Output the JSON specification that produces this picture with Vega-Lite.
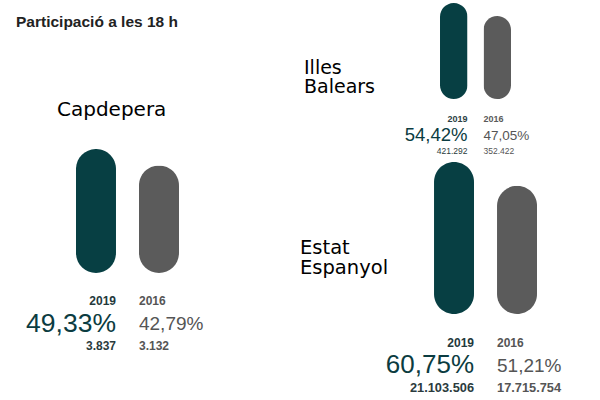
{
  "$schema": "https://vega.github.io/schema/vega-lite/v6.json",
  "padding": 0,
  "background": "#ffffff",
  "config": {
    "view": {"stroke": null},
    "locale": {"number": {"decimal": ",", "thousands": ".", "grouping": [3], "currency": ["", " €"]}}
  },
  "datasets": {
    "turnout": [
      {"region": "Capdepera", "year": "2019", "share": 0.4933, "votes": 3837},
      {"region": "Capdepera", "year": "2016", "share": 0.4279, "votes": 3132},
      {"region": "Illes Balears", "year": "2019", "share": 0.5442, "votes": 421292},
      {"region": "Illes Balears", "year": "2016", "share": 0.4705, "votes": 352422},
      {"region": "Estat Espanyol", "year": "2019", "share": 0.6075, "votes": 21103506},
      {"region": "Estat Espanyol", "year": "2016", "share": 0.5121, "votes": 17715754}
    ]
  },
  "data": {"name": "turnout"},
  "bounds": "flush",
  "spacing": 174,
  "hconcat": [
    {
      "width": 179,
      "height": 273,
      "title": {"text": "Participació a les 18 h", "anchor": "start", "orient": "top", "frame": "group", "offset": -42, "baseline": "alphabetic", "dx": 16, "font": "Liberation Sans", "fontSize": 15.5, "fontWeight": "bold", "color": "#222222"},
      "transform": [{"filter": "datum.region === 'Capdepera'"}],
      "layer": [
        {
          "mark": {"type": "bar", "cornerRadius": 20},
          "encoding": {
            "x": {"field": "year", "type": "nominal", "axis": null, "scale": {"domain": ["2019", "2016"], "paddingInner": 0.365, "paddingOuter": 0.603, "align": 1}},
            "y": {"field": "share", "type": "quantitative", "axis": null, "scale": {"domain": [0, 1.086], "nice": false}},
            "color": {"field": "year", "type": "nominal", "legend": null, "scale": {"domain": ["2019", "2016"], "range": ["#073f43", "#5b5b5b"]}}
          }
        },
        {
          "transform": [{"filter": "datum.year === '2019'"}],
          "encoding": {"x": {"field": "year", "type": "nominal", "bandPosition": 1}, "y": {"datum": 0}},
          "layer": [
            {"mark": {"type": "text", "align": "right", "baseline": "alphabetic", "dy": 32, "font": "Liberation Sans", "fontSize": 12, "fontWeight": "bold", "color": "#24393c"}, "encoding": {"text": {"field": "year"}}},
            {"mark": {"type": "text", "align": "right", "baseline": "alphabetic", "dy": 59, "font": "Liberation Sans", "fontSize": 26.5, "color": "#0b3c41"}, "encoding": {"text": {"field": "share", "type": "quantitative", "format": ".2%"}}},
            {"mark": {"type": "text", "align": "right", "baseline": "alphabetic", "dy": 77, "font": "Liberation Sans", "fontSize": 12, "fontWeight": "bold", "color": "#2b3b3d"}, "encoding": {"text": {"field": "votes", "type": "quantitative", "format": ",d"}}},
            {"mark": {"type": "text", "align": "left", "baseline": "alphabetic", "dx": -19, "dy": -157, "font": "DejaVu Sans", "fontSize": 20, "color": "#000000"}, "encoding": {"x": {"field": "year", "type": "nominal", "bandPosition": 0}, "text": {"field": "region"}}}
          ]
        },
        {
          "transform": [{"filter": "datum.year === '2016'"}],
          "encoding": {"x": {"field": "year", "type": "nominal", "bandPosition": 0}, "y": {"datum": 0}},
          "layer": [
            {"mark": {"type": "text", "align": "left", "baseline": "alphabetic", "dy": 32, "font": "Liberation Sans", "fontSize": 12, "fontWeight": "bold", "color": "#555555"}, "encoding": {"text": {"field": "year"}}},
            {"mark": {"type": "text", "align": "left", "baseline": "alphabetic", "dy": 57, "font": "Liberation Sans", "fontSize": 19, "color": "#555555"}, "encoding": {"text": {"field": "share", "type": "quantitative", "format": ".2%"}}},
            {"mark": {"type": "text", "align": "left", "baseline": "alphabetic", "dy": 77, "font": "Liberation Sans", "fontSize": 12, "fontWeight": "bold", "color": "#555555"}, "encoding": {"text": {"field": "votes", "type": "quantitative", "format": ",d"}}}
          ]
        }
      ]
    },
    {
      "bounds": "flush",
      "spacing": 61,
      "vconcat": [
        {
          "width": 158,
          "height": 99,
          "transform": [{"filter": "datum.region === 'Illes Balears'"}],
          "layer": [
            {
              "mark": {"type": "bar", "cornerRadius": 14},
              "encoding": {
                "x": {"field": "year", "type": "nominal", "axis": null, "scale": {"domain": ["2019", "2016"], "paddingInner": 0.368, "paddingOuter": 1, "align": 1}},
                "y": {"field": "share", "type": "quantitative", "axis": null, "scale": {"domain": [0, 0.5612], "nice": false}},
                "color": {"field": "year", "type": "nominal", "legend": null, "scale": {"domain": ["2019", "2016"], "range": ["#073f43", "#5b5b5b"]}}
              }
            },
            {
              "transform": [{"filter": "datum.year === '2019'"}],
              "encoding": {"x": {"field": "year", "type": "nominal", "bandPosition": 1}, "y": {"datum": 0}},
              "layer": [
                {"mark": {"type": "text", "align": "right", "baseline": "alphabetic", "dy": 23, "font": "Liberation Sans", "fontSize": 9, "fontWeight": "bold", "color": "#2d4144"}, "encoding": {"text": {"field": "year"}}},
                {"mark": {"type": "text", "align": "right", "baseline": "alphabetic", "dy": 42, "font": "Liberation Sans", "fontSize": 18.5, "color": "#0b3c41"}, "encoding": {"text": {"field": "share", "type": "quantitative", "format": ".2%"}}},
                {"mark": {"type": "text", "align": "right", "baseline": "alphabetic", "dy": 55, "font": "Liberation Sans", "fontSize": 8.5, "color": "#2b3b3d"}, "encoding": {"text": {"field": "votes", "type": "quantitative", "format": ",d"}}},
                {"mark": {"type": "text", "align": "left", "baseline": "alphabetic", "dx": -136, "dy": -25, "lineBreak": " ", "lineHeight": 19, "font": "DejaVu Sans", "fontSize": 19, "color": "#000000"}, "encoding": {"x": {"field": "year", "type": "nominal", "bandPosition": 0}, "text": {"field": "region"}}}
              ]
            },
            {
              "transform": [{"filter": "datum.year === '2016'"}],
              "encoding": {"x": {"field": "year", "type": "nominal", "bandPosition": 0}, "y": {"datum": 0}},
              "layer": [
                {"mark": {"type": "text", "align": "left", "baseline": "alphabetic", "dy": 23, "font": "Liberation Sans", "fontSize": 9, "fontWeight": "bold", "color": "#5a5a5a"}, "encoding": {"text": {"field": "year"}}},
                {"mark": {"type": "text", "align": "left", "baseline": "alphabetic", "dy": 41, "font": "Liberation Sans", "fontSize": 13.5, "color": "#555555"}, "encoding": {"text": {"field": "share", "type": "quantitative", "format": ".2%"}}},
                {"mark": {"type": "text", "align": "left", "baseline": "alphabetic", "dy": 55, "font": "Liberation Sans", "fontSize": 8.5, "color": "#555555"}, "encoding": {"text": {"field": "votes", "type": "quantitative", "format": ",d"}}}
              ]
            }
          ]
        },
        {
          "width": 229,
          "height": 154,
          "transform": [{"filter": "datum.region === 'Estat Espanyol'"}],
          "layer": [
            {
              "mark": {"type": "bar", "cornerRadius": 20},
              "encoding": {
                "x": {"field": "year", "type": "nominal", "axis": null, "scale": {"domain": ["2019", "2016"], "paddingInner": 0.365, "paddingOuter": 1, "align": 0.643}},
                "y": {"field": "share", "type": "quantitative", "axis": null, "scale": {"domain": [0, 0.6155], "nice": false}},
                "color": {"field": "year", "type": "nominal", "legend": null, "scale": {"domain": ["2019", "2016"], "range": ["#073f43", "#5b5b5b"]}}
              }
            },
            {
              "transform": [{"filter": "datum.year === '2019'"}],
              "encoding": {"x": {"field": "year", "type": "nominal", "bandPosition": 1}, "y": {"datum": 0}},
              "layer": [
                {"mark": {"type": "text", "align": "right", "baseline": "alphabetic", "dy": 33, "font": "Liberation Sans", "fontSize": 12, "fontWeight": "bold", "color": "#24393c"}, "encoding": {"text": {"field": "year"}}},
                {"mark": {"type": "text", "align": "right", "baseline": "alphabetic", "dy": 59, "font": "Liberation Sans", "fontSize": 26, "color": "#0b3c41"}, "encoding": {"text": {"field": "share", "type": "quantitative", "format": ".2%"}}},
                {"mark": {"type": "text", "align": "right", "baseline": "alphabetic", "dy": 78, "font": "Liberation Sans", "fontSize": 12.8, "fontWeight": "bold", "color": "#2b3b3d"}, "encoding": {"text": {"field": "votes", "type": "quantitative", "format": ",d"}}},
                {"mark": {"type": "text", "align": "left", "baseline": "alphabetic", "dx": -134, "dy": -60, "lineBreak": " ", "lineHeight": 19.5, "font": "DejaVu Sans", "fontSize": 19.5, "color": "#000000"}, "encoding": {"x": {"field": "year", "type": "nominal", "bandPosition": 0}, "text": {"field": "region"}}}
              ]
            },
            {
              "transform": [{"filter": "datum.year === '2016'"}],
              "encoding": {"x": {"field": "year", "type": "nominal", "bandPosition": 0}, "y": {"datum": 0}},
              "layer": [
                {"mark": {"type": "text", "align": "left", "baseline": "alphabetic", "dy": 33, "font": "Liberation Sans", "fontSize": 12, "fontWeight": "bold", "color": "#555555"}, "encoding": {"text": {"field": "year"}}},
                {"mark": {"type": "text", "align": "left", "baseline": "alphabetic", "dy": 58, "font": "Liberation Sans", "fontSize": 19, "color": "#555555"}, "encoding": {"text": {"field": "share", "type": "quantitative", "format": ".2%"}}},
                {"mark": {"type": "text", "align": "left", "baseline": "alphabetic", "dy": 78, "font": "Liberation Sans", "fontSize": 12.8, "fontWeight": "bold", "color": "#555555"}, "encoding": {"text": {"field": "votes", "type": "quantitative", "format": ",d"}}}
              ]
            }
          ]
        }
      ]
    }
  ]
}
